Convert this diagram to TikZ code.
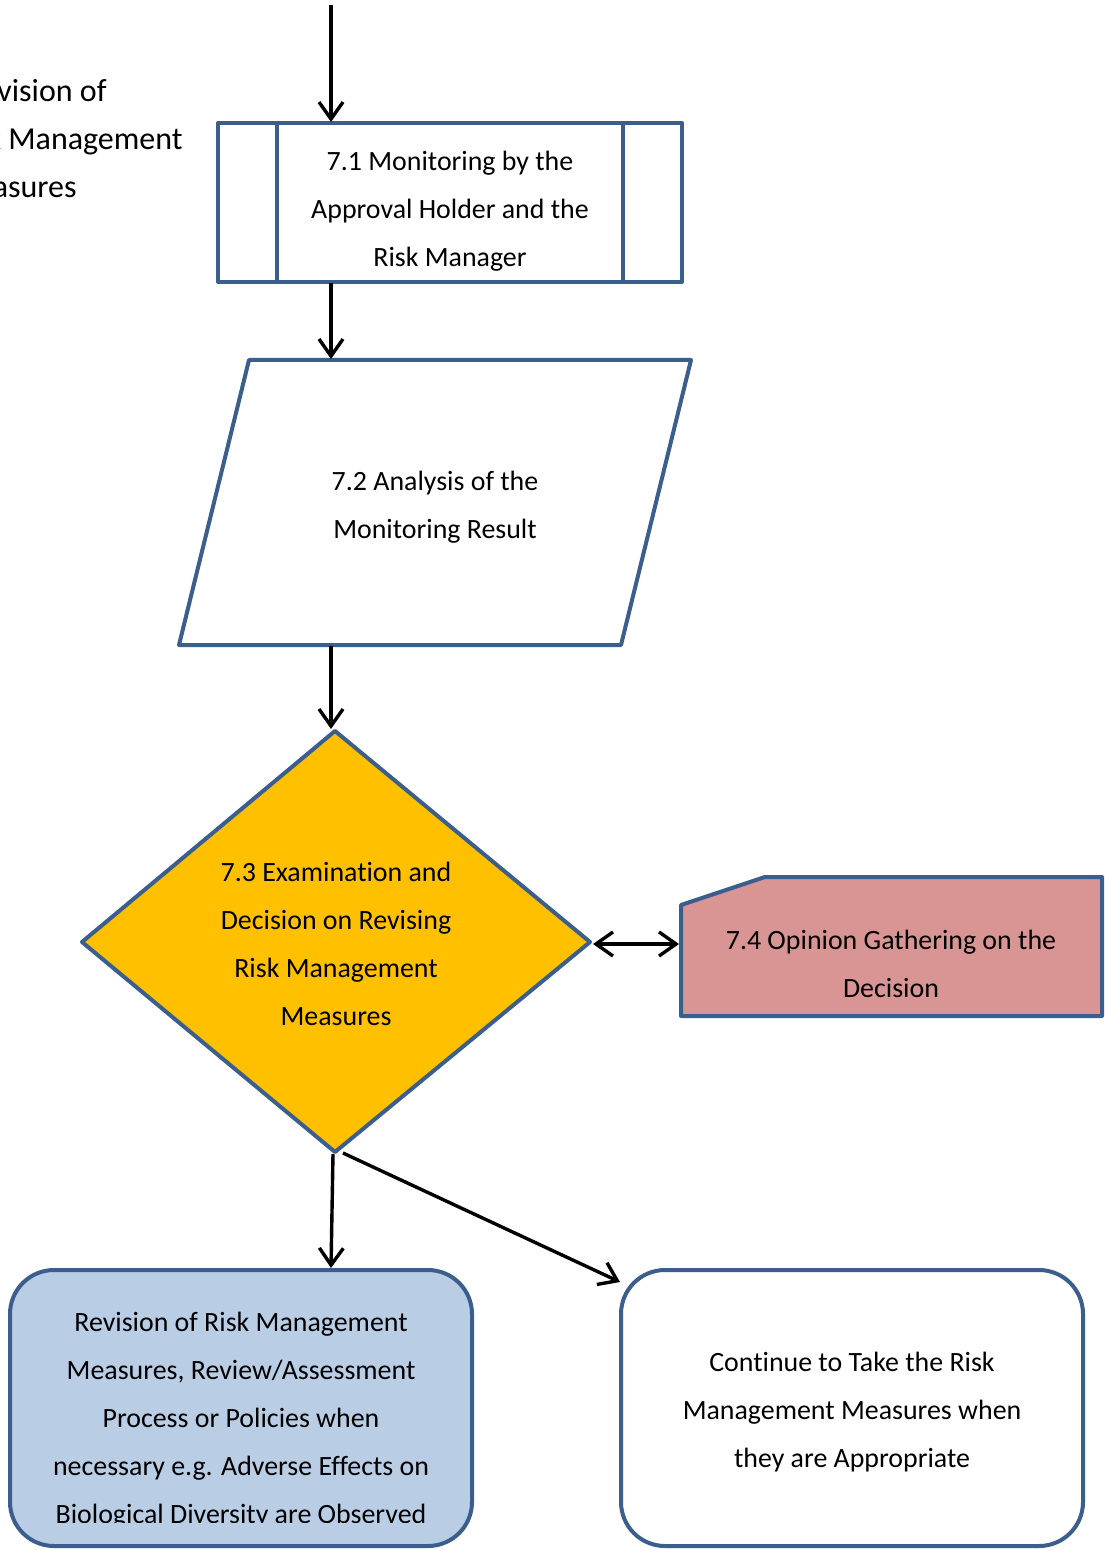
\documentclass[tikz,border=0pt]{standalone}
\usepackage{fontspec}
\setmainfont{Carlito}[Ligatures=NoCommon]
\usetikzlibrary{arrows.meta}
\definecolor{edgeblue}{HTML}{3B5E8C}
\definecolor{gold}{HTML}{FFC000}
\definecolor{rose}{HTML}{D99594}
\definecolor{paleblue}{HTML}{B9CDE5}
\begin{document}
\begin{tikzpicture}[x=0.5pt,y=-0.5pt,
  shapeline/.style={draw=edgeblue,line width=2pt,line join=round},
  flow/.style={draw=black,line width=1.7pt,-{Straight Barb[length=8.5pt,width=12pt]}},
  twoway/.style={draw=black,line width=1.7pt,{Straight Barb[length=8.5pt,width=12pt]}-{Straight Barb[length=8.5pt,width=12pt]}},
  txt/.style={font=\fontsize{13.95pt}{24pt}\selectfont,align=center,inner sep=0pt},
  headtxt/.style={font=\fontsize{16pt}{24pt}\selectfont,inner sep=0pt,anchor=base east}]
\useasboundingbox (0,0) rectangle (1104,1550);
\clip (0,0) rectangle (1104,1550);

% heading text running off the left edge
\node[headtxt] (hd1) at (107,102) {Revision of};
\node[headtxt] (hd2) at (183,150) {Risk Management};
\node[headtxt] (hd3) at (77,198) {Measures};

% 7.1 predefined-process box
\draw[shapeline,fill=white] (218,123) rectangle (682,282);
\draw[shapeline] (277,123) -- (277,282) (623,123) -- (623,282);
\node[txt] (s71) at (450,211) {7.1 Monitoring by the\\Approval Holder and the\\Risk Manager};
\coordinate (s71n) at (331,122);
\coordinate (s71s) at (331,283);
\coordinate (entry) at (331,5);

% 7.2 parallelogram
\draw[shapeline,fill=white] (249,360) -- (691,360) -- (621,645) -- (179,645) -- cycle;
\node[txt] (s72) at (435,507) {7.2 Analysis of the\\Monitoring Result};
\coordinate (s72n) at (331,359);
\coordinate (s72s) at (331,646);

% 7.3 decision diamond
\draw[shapeline,fill=gold] (335,731) -- (590,942) -- (335,1152) -- (82,942) -- cycle;
\node[txt] (s73) at (336,944) {7.3 Examination and\\Decision on Revising\\Risk Management\\Measures};
\coordinate (s73n) at (331,729);
\coordinate (s73e) at (593,944);
\coordinate (s73s) at (333,1154);
\coordinate (s73se) at (343,1153);

% 7.4 box with cut corner
\draw[shapeline,fill=rose] (681,905) -- (765,877) -- (1102,877) -- (1102,1016) -- (681,1016) -- cycle;
\node[txt] (s74) at (891,964) {7.4 Opinion Gathering on the\\Decision};
\coordinate (s74w) at (679,944);

% outcome boxes
\draw[shapeline,fill=paleblue,rounded corners=22pt] (10,1270) rectangle (472,1546);
\begin{scope}
  \clip (10,1270) rectangle (472,1522);
  \node[txt] (rev) at (241,1420) {Revision of Risk Management\\Measures, Review/Assessment\\Process or Policies when\\necessary e.g. Adverse Effects on\\Biological Diversity are Observed};
\end{scope}
\coordinate (revn) at (331,1268);

\draw[shapeline,fill=white,rounded corners=22pt] (621,1270) rectangle (1083,1546);
\node[txt] (cont) at (852,1412) {Continue to Take the Risk\\Management Measures when\\they are Appropriate};
\coordinate (contnw) at (620,1282);

% connectors
\draw[flow] (entry) -- (s71n);
\draw[flow] (s71s) -- (s72n);
\draw[flow] (s72s) -- (s73n);
\draw[twoway] (s73e) -- (s74w);
\draw[flow] (s73s) -- (revn);
\draw[flow] (s73se) -- (contnw);
\end{tikzpicture}
\end{document}
